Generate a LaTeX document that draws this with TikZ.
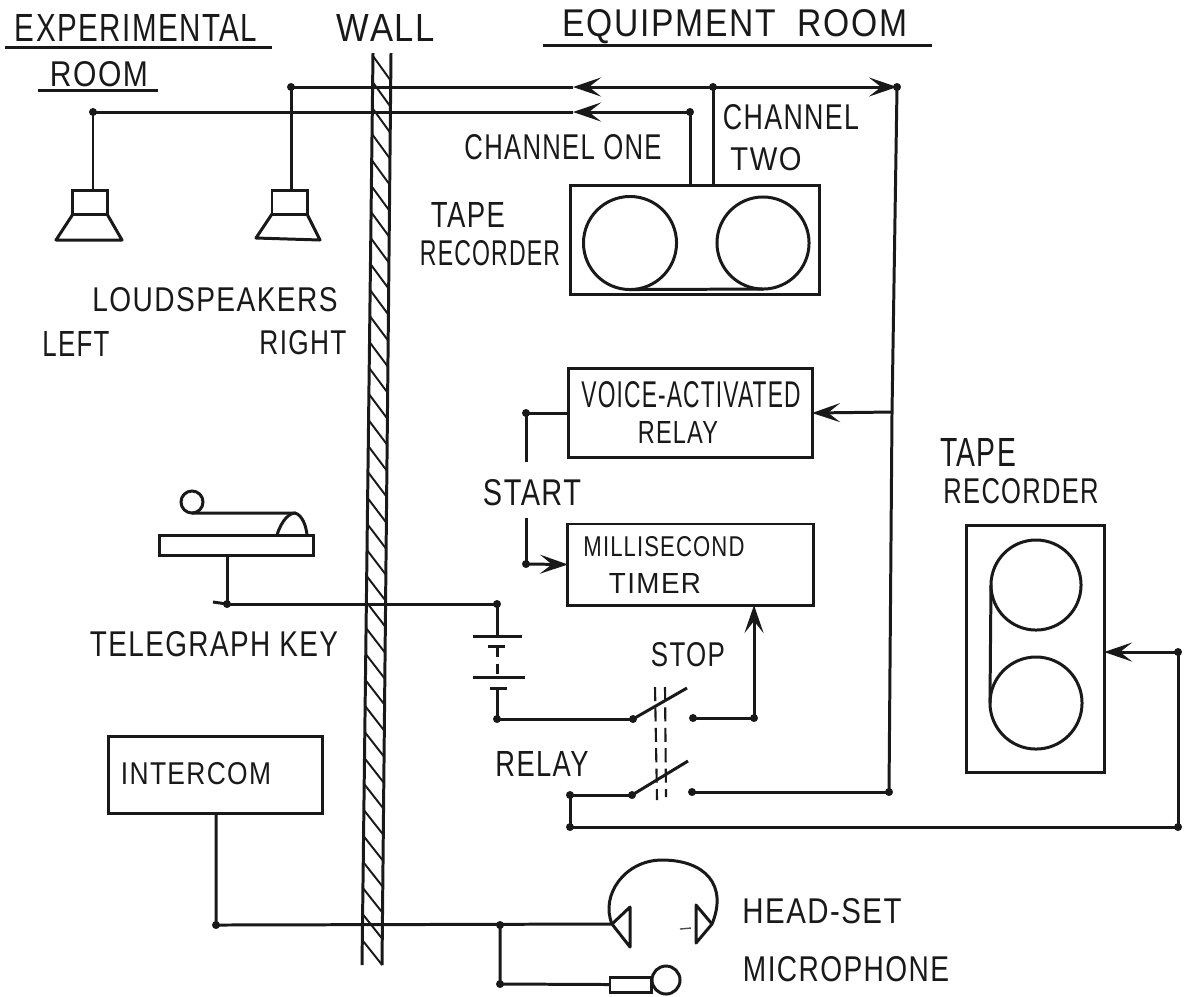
\documentclass[tikz,border=0pt]{standalone}
\usepackage{fontspec}
\setmainfont[LetterSpace=5]{Liberation Sans}
\usetikzlibrary{arrows.meta}
% label of a given width and cap height (hand lettering varies)
\newcommand{\fitlab}[3][0.25cm]{\resizebox{#2cm}{#1}{#3}}

\begin{document}
\begin{tikzpicture}[
        x=0.01cm, y=-0.01cm,
        wire/.style={line width=0.85pt, black!90},
        arr/.style={wire, -{Stealth[length=0.28cm, width=0.19cm, inset=0.12cm]}},
        junction/.style={circle, fill=black!90, inner sep=0pt, minimum size=0.08cm},
        unit/.style={draw=black!90, line width=0.85pt, inner sep=0pt, outer sep=0pt},
        reel/.style={unit, circle},
        lbl/.style={text=black!90, inner sep=0pt}
    ]
        \useasboundingbox (0,0) rectangle (1186,996);

        % headings
        \node[lbl] (exptitle)   at (136,28) {\fitlab[0.27cm]{2.42}{EXPERIMENTAL}};
        \node[lbl] (exproom)    at (99,74)  {\fitlab{0.98}{ROOM}};
        \node[lbl] (walltitle)  at (386,28) {\fitlab[0.27cm]{0.98}{WALL}};
        \node[lbl] (equiptitle) at (735,27) {\fitlab[0.27cm]{3.45}{EQUIPMENT\ \ ROOM}};
        \draw[wire] (5,47) -- (272,47);
        \draw[wire] (38,90) -- (158,90);
        \draw[wire] (543,45) -- (932,45);

        % wall
        \draw[wire] (373,53) -- (362,965);
        \draw[wire] (391,53) -- (382,965);
        \foreach \y in {56,82,...,940} {
            \pgfmathsetmacro{\xa}{373-0.0121*(\y-53)}
            \pgfmathsetmacro{\xb}{391-0.0099*(\y-53)}
            \draw[line width=0.55pt, black!90] (\xa,\y) -- (\xb,\y+25);
        }

        % units
        \node[unit, minimum width=2.48cm, minimum height=1.08cm] (taperec) at (695,240) {};
        \node[reel, minimum size=0.93cm] (reela) at (630,243) {};
        \node[reel, minimum size=0.92cm] (reelb) at (763,243) {};
        \node[unit, minimum width=2.43cm, minimum height=0.88cm] (voice) at (690.5,413) {};
        \node[unit, minimum width=2.45cm, minimum height=0.81cm] (timer) at (690.5,564.5) {};
        \node[unit, minimum width=1.37cm, minimum height=2.46cm] (taperecb) at (1035.5,649) {};
        \node[reel, minimum size=0.90cm] (reelc) at (1036,585) {};
        \node[reel, minimum size=0.92cm] (reeld) at (1036,703) {};
        \node[unit, minimum width=2.13cm, minimum height=0.77cm] (intercom) at (215.5,774.5) {};
        \draw[wire] (reela.south) -- (reelb.south);
        \draw[wire] (reelc.west) -- (reeld.west);

        % loudspeakers
        \node[unit, minimum width=0.34cm, minimum height=0.24cm] (spkleft) at (90,202) {};
        \node[unit, minimum width=0.35cm, minimum height=0.24cm] (spkright) at (289.5,202) {};
        \draw[wire, line join=round] (spkleft.south west) -- (56,240) -- (122,240) -- (spkleft.south east);
        \draw[wire, line join=round] (spkright.south west) -- (256,238) -- (320,240) -- (spkright.south east);

        % telegraph key
        \node[unit, minimum width=1.53cm, minimum height=0.2cm] (keybar) at (236.5,545) {};
        \node[reel, minimum size=0.22cm] (keyknob) at (192,502) {};
        \draw[wire] (keyknob.south) -- (295,513);
        \draw[wire] (277,535) .. controls (282,519) and (290,513) .. (295,513)
                              .. controls (302,515) and (306,525) .. (307,535);

        % junctions
        \coordinate (spkrtop) at (291,87);
        \coordinate (spkltop) at (93,112);
        \coordinate (chtwo)   at (713,87);
        \coordinate (chone)   at (690,112);
        \coordinate (arrtopa) at (573,87);
        \coordinate (arrtopb) at (573,112);
        \coordinate (feed)    at (897,87);
        \coordinate (feedb)   at (892,412);
        \coordinate (feedc)   at (889,792);
        \coordinate (startup) at (526,413);
        \coordinate (startdn) at (526,564);
        \coordinate (keyend)  at (227,604);
        \coordinate (batttop) at (497,604);
        \coordinate (battbot) at (497,719);
        \coordinate (stopa)   at (633,719);
        \coordinate (stopb)   at (693,718);
        \coordinate (stopc)   at (754,718);
        \coordinate (relaya)  at (632,795);
        \coordinate (relayb)  at (692,792);
        \coordinate (relayc)  at (570,795);
        \coordinate (relayd)  at (570,827);
        \coordinate (retb)    at (1178,827);
        \coordinate (retc)    at (1178,652);
        \coordinate (comend)  at (216,925);
        \coordinate (hsjoin)  at (500,925);
        \coordinate (hsear)   at (612,924);
        \coordinate (micend)  at (500,984);

        % channels
        \draw[wire] (arrtopa) -- (spkrtop) -- (spkrtop |- spkright.north);
        \draw[wire] (arrtopb) -- (spkltop) -- (spkltop |- spkleft.north);
        \draw[arr] (chtwo) -- (arrtopa);
        \draw[arr] (chone) -- (arrtopb);
        \draw[arr] (chtwo) -- (feed);
        \draw[wire] (chone) -- (chone |- taperec.north);
        \draw[wire] (chtwo) -- (chtwo |- taperec.north);
        \draw[wire] (feed) -- (feedb) -- (feedc);
        \draw[arr] (feedb) -- (voice.east);

        % start line
        \draw[wire] (voice.west) -- (startup) -- (526,462);
        \draw[wire] (526,518) -- (startdn);
        \draw[arr] (startdn) -- (timer.west);

        % key and battery
        \draw[wire] (keybar.south -| keyend) -- (keyend) -- (batttop);
        \draw[wire] (213,602) -- (keyend);
        \draw[wire] (batttop) -- (497,636);
        \draw[wire] (473,636) -- (522,636);
        \draw[wire] (488,646) -- (505,646);
        \draw[wire, densely dashed] (497,646) -- (497,677);
        \draw[wire] (473,677) -- (525,677);
        \draw[wire] (490,688) -- (507,688);
        \draw[wire] (497,688) -- (battbot) -- (stopa);

        % relay contacts
        \draw[wire] (stopa) -- (687,688);
        \draw[wire] (relaya) -- (688,761);
        \draw[wire] (stopb) -- (stopc);
        \draw[arr] (stopc) -- (stopc |- timer.south);
        \draw[wire] (relayb) -- (feedc);
        \draw[wire] (relaya) -- (relayc) -- (relayd) -- (retb) -- (retc);
        \draw[arr] (retc) -- (taperecb.east |- retc);
        \draw[line width=0.6pt, black!90, dash pattern=on 4pt off 1.8pt] (655,687) -- (657,800);
        \draw[line width=0.6pt, black!90, dash pattern=on 4pt off 1.8pt] (665,687) -- (666,797);

        % intercom and head-set
        \draw[wire] (intercom.south -| comend) -- (comend) -- (hsear);
        \node[unit, minimum width=0.41cm, minimum height=0.15cm] (micbody) at (630.5,984.5) {};
        \node[reel, fill=white, minimum size=0.28cm] (michead) at (666,980) {};
        \draw[wire] (hsjoin) -- (micend) -- (micbody.west);
        \draw[wire, line join=round] (hsear) -- (630,907) -- (630,947) -- cycle;
        \draw[wire, line join=round] (712,924) -- (696,905) -- (696,943) -- cycle;
        \draw[wire] (hsear) .. controls (600,895) and (625,860) .. (662,860)
                            .. controls (705,860) and (728,885) .. (712,924);
        \draw[line width=0.4pt, black!70] (680,929) -- (691,928);

        \foreach \pt in {spkrtop, spkltop, chone, chtwo, feed, startup, startdn, keyend, batttop, battbot,
                         stopa, stopb, stopc, relaya, relayb, relayc, relayd, feedc, retb, retc, comend, hsjoin, micend} {
            \node[junction] at (\pt) {};
        }

        % labels
        \node[lbl] (chonelbl)  at (563,147) {\fitlab{1.97}{CHANNEL ONE}};
        \node[lbl] (chanlbl)   at (791,117) {\fitlab{1.36}{CHANNEL}};
        \node[lbl] (twolbl)    at (766,159) {\fitlab[0.23cm]{0.71}{TWO}};
        \node[lbl] (tapelbl)   at (468,215) {\fitlab{0.74}{TAPE}};
        \node[lbl] (reclbl)    at (490,253) {\fitlab{1.40}{RECORDER}};
        \node[lbl] (spklbl)    at (215,300) {\fitlab[0.24cm]{2.45}{LOUDSPEAKERS}};
        \node[lbl] (leftlbl)   at (76,344)  {\fitlab{0.67}{LEFT}};
        \node[lbl] (rightlbl)  at (303,343) {\fitlab[0.24cm]{0.87}{RIGHT}};
        \node[lbl] (voicelbl)  at (691,395) {\fitlab[0.26cm]{2.19}{VOICE-ACTIVATED}};
        \node[lbl] (rellbl)    at (678,432) {\fitlab[0.22cm]{0.80}{RELAY}};
        \node[lbl] (startlbl)  at (532,493) {\fitlab[0.26cm]{0.98}{START}};
        \node[lbl] (millilbl)  at (664,547) {\fitlab[0.20cm]{1.61}{MILLISECOND}};
        \node[lbl] (timerlbl)  at (655,583) {\fitlab[0.2cm]{0.92}{TIMER}};
        \node[lbl] (tapeblbl)  at (978,452) {\fitlab[0.28cm]{0.76}{TAPE}};
        \node[lbl] (recblbl)   at (1021,491) {\fitlab{1.55}{RECORDER}};
        \node[lbl] (keylbl)    at (214,644) {\fitlab{2.48}{TELEGRAPH\ KEY}};
        \node[lbl] (stoplbl)   at (688,655) {\fitlab[0.24cm]{0.74}{STOP}};
        \node[lbl] (relaylbl)  at (542,764) {\fitlab{0.93}{RELAY}};
        \node[lbl] (comlbl)    at (196,774) {\fitlab[0.22cm]{1.50}{INTERCOM}};
        \node[lbl] (hslbl)     at (822,911) {\fitlab{1.59}{HEAD-SET}};
        \node[lbl] (miclbl)    at (846,969) {\fitlab{2.06}{MICROPHONE}};
    \end{tikzpicture}
\end{document}
